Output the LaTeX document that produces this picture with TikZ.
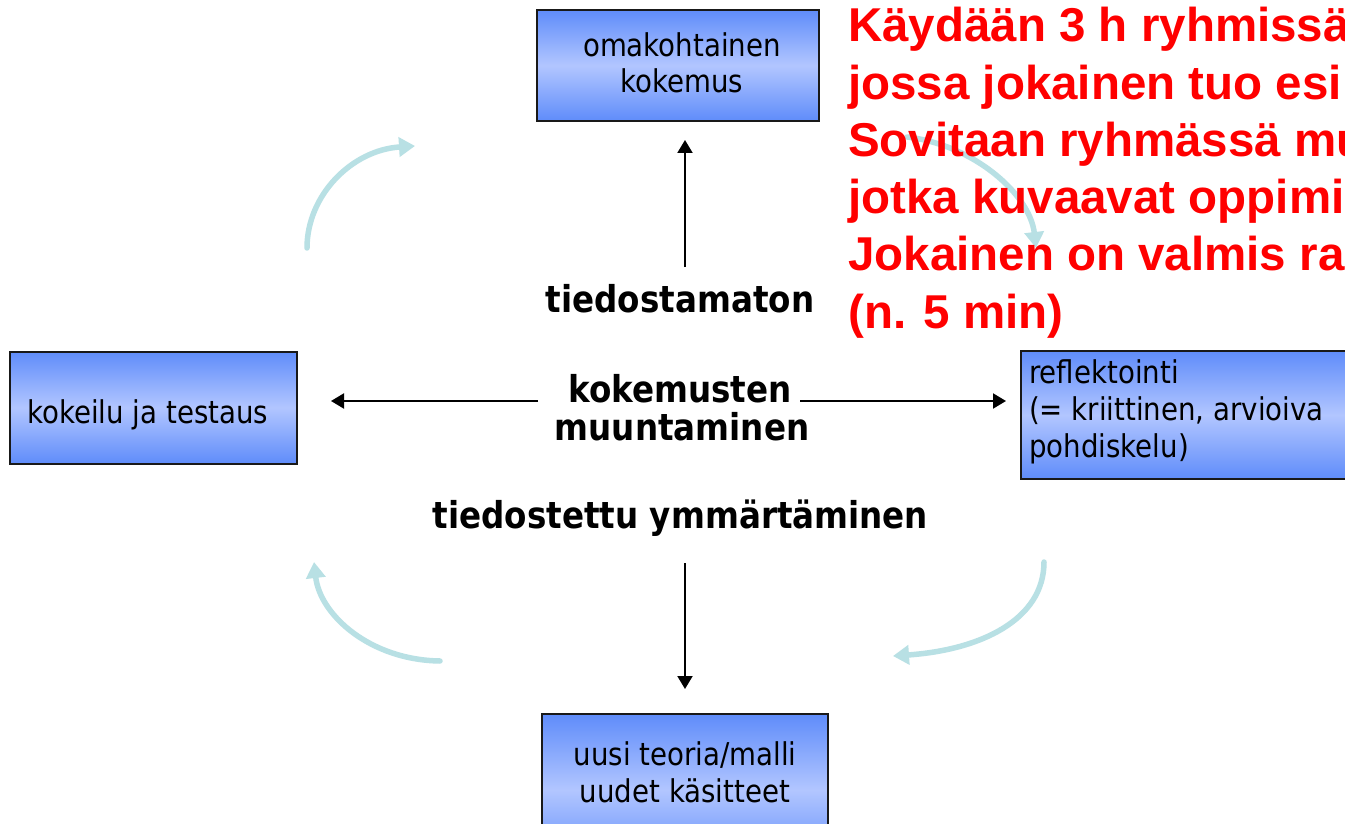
\documentclass[tikz,border=0pt]{standalone}
\usepackage{fontspec}
\usetikzlibrary{arrows.meta}
\newfontfamily\boxfont[FakeStretch=0.88]{DejaVu Sans}
\newfontfamily\redfont{Liberation Sans}
\definecolor{boxdark}{RGB}{95,140,250}
\definecolor{boxlight}{RGB}{178,198,255}
\definecolor{cyc}{RGB}{184,224,228}
\definecolor{redtxt}{RGB}{255,0,0}
\begin{document}
\begin{tikzpicture}[x=1pt,y=-1pt,
 box/.style={rectangle, draw=black!90, line width=2pt, top color=boxdark, bottom color=boxdark, middle color=boxlight, inner sep=0pt},
 btxt/.style={font=\boxfont\fontsize{31.4}{36}\selectfont, inner sep=0pt, anchor=base},
 bltxt/.style={btxt, anchor=base west},
 ctxt/.style={font=\boxfont\bfseries\fontsize{37}{40}\selectfont, inner sep=0pt, anchor=base},
 rtxt/.style={font=\redfont\bfseries\fontsize{47.5}{50}\selectfont, text=redtxt, inner sep=0pt, anchor=base west},
 blk/.style={line width=2pt, -{Triangle[length=13pt,width=15pt]}},
 cyca/.style={draw=cyc, line width=5.5pt, line cap=round, -{Triangle[length=16pt,width=19pt]}}
]
\useasboundingbox (0,0) rectangle (1345,824);
\clip (0,0) rectangle (1345,824);
\fill[white] (0,0) rectangle (1345,824);

% boxes
\node[box, minimum width=282pt, minimum height=111pt] (top) at (678,65.5) {};
\node[box, minimum width=287pt, minimum height=112pt] (left) at (153.5,407.5) {};
\node[box, minimum width=379pt, minimum height=128pt] (right) at (1210.5,415) {};
\node[box, minimum width=286pt, minimum height=152pt] (bottom) at (685,790) {};

% box texts
\node[btxt] (t1) at (682,57) {omakohtainen};
\node[btxt] (t2) at (682,93) {kokemus};
\node[bltxt] (l1) at (27,423) {kokeilu ja testaus};
\node[bltxt] (r1) at (1029,383) {reflektointi};
\node[bltxt] (r2) at (1029,420) {(= kriittinen, arvioiva};
\node[bltxt] (r3) at (1029,457) {pohdiskelu)};
\node[btxt] (b1) at (685,765) {uusi teoria/malli};
\node[btxt] (b2) at (685,802) {uudet käsitteet};

% center texts
\node[ctxt] (tied) at (680,312) {tiedostamaton};
\node[ctxt] (kok) at (680,402) {kokemusten};
\node[ctxt] (muun) at (682,440) {muuntaminen};
\node[ctxt] (ymm) at (680.5,528) {tiedostettu ymmärtäminen};

% black arrows
\coordinate (aup) at (685,267);
\coordinate (adn) at (685,563);
\coordinate (alf) at (538,401);
\coordinate (art) at (800,401);
\draw[blk, shorten >=18pt] (aup) -- (aup |- top.south);
\draw[blk, shorten >=24pt] (adn) -- (adn |- bottom.north);
\draw[blk, shorten >=33pt] (alf) -- (alf -| left.east);
\draw[blk, shorten >=14pt] (art) -- (art -| right.west);

% light cycle arrows
\coordinate (c1a) at (307,248); \coordinate (c1b) at (415,146);
\coordinate (c2a) at (907,137); \coordinate (c2b) at (1036,248);
\coordinate (c3a) at (1044,562); \coordinate (c3b) at (893,656);
\coordinate (c4a) at (440,661); \coordinate (c4b) at (314,562);
\draw[cyca] (c1a) .. controls (307,195) and (352,150) .. (c1b);
\draw[cyca] (c2a) .. controls (975,145) and (1030,195) .. (c2b);
\draw[cyca] (c3a) .. controls (1044,620) and (980,650) .. (c3b);
\draw[cyca] (c4a) .. controls (370,660) and (320,615) .. (c4b);

% red text
\node[rtxt] (q1) at (848,42) {Käydään 3 h ryhmissä};
\node[rtxt] (q2) at (848,99.2) {jossa jokainen tuo esi};
\node[rtxt] (q3) at (848,156.4) {Sovitaan ryhmässä mu};
\node[rtxt] (q4) at (848,213.6) {jotka kuvaavat oppimi};
\node[rtxt] (q5) at (848,270.8) {Jokainen on valmis ra};
\node[rtxt] (q6) at (848,328) {(n. 5 min)};
\end{tikzpicture}
\end{document}
